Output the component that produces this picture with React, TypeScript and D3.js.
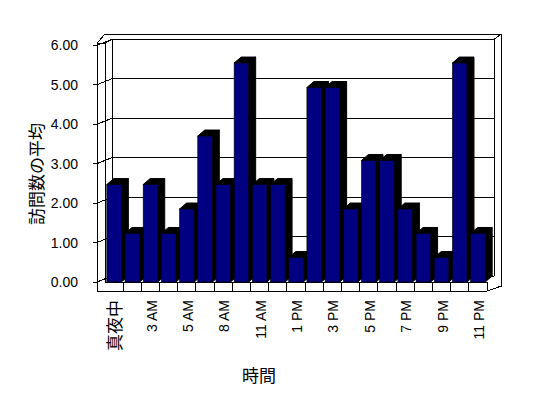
import React, { useEffect, useRef } from "react";
import * as d3 from "d3";

// 時間ごとの訪問数の平均
const hours = [
  "真夜中", "1 AM", "3 AM", "4 AM", "5 AM", "7 AM", "8 AM", "10 AM", "11 AM", "正午", "1 PM",
  "2 PM", "3 PM", "4 PM", "5 PM", "6 PM", "7 PM", "8 PM", "9 PM", "10 PM", "11 PM",
];
const visits = [
  2.47, 1.23, 2.47, 1.23, 1.85, 3.7, 2.47, 5.55, 2.47, 2.47, 0.62,
  4.93, 4.93, 1.85, 3.08, 3.08, 1.85, 1.23, 0.62, 5.55, 1.23,
];
const yTicks = [0, 1, 2, 3, 4, 5, 6];

const W = 548;
const H = 398;

const App = () => {
  const ref = useRef<SVGSVGElement>(null);

  useEffect(() => {
    drawChart();
  }, []);

  const drawChart = () => {
    const svg = d3.select(ref.current);
    svg.selectAll("*").remove();

    const xL = 105, xR = 487;
    const yBase = 282, floorBottom = 291, wallLeft = 97;
    const dx = 7, dy = -6; // depth
    const outerTop = 34, outerRight = 501.5;

    const x = d3.scaleBand<string>().domain(hours).range([xL, xR]);
    const y = d3.scaleLinear().domain([0, 6]).range([yBase, 45.3]);
    const band = x.bandwidth();
    const barW = band * 0.8;
    const off = 1.8;

    const line = (x1: number, y1: number, x2: number, y2: number) =>
      svg.append("line")
        .attr("x1", x1).attr("y1", y1).attr("x2", x2).attr("y2", y2)
        .attr("stroke", "#000").attr("stroke-width", 1)
        .attr("shape-rendering", "crispEdges");

    const yTop = y(6);
    const wallTopFront = yTop - 2;

    // back wall outer
    line(xL, outerTop, outerRight, outerTop);
    line(outerRight, outerTop, outerRight, yBase + 4);
    // back wall inner
    line(xL + dx, yTop + dy, xR + dx, yTop + dy);
    line(xR + dx, yTop + dy, xR + dx, yBase + dy);
    line(xR + dx, yTop + dy, outerRight, outerTop);
    line(xL + dx, yTop + dy, xL + dx, yBase + dy);

    // left wall
    line(wallLeft, wallTopFront, wallLeft, floorBottom);
    line(xL, wallTopFront, xL, yBase);
    line(wallLeft, wallTopFront, xL, wallTopFront);
    line(wallLeft, wallTopFront, xL, outerTop);
    line(xL, wallTopFront, xL + dx, yTop + dy);

    // gridlines
    yTicks.forEach((t) => {
      line(xL + dx, y(t) + dy, xR + dx, y(t) + dy);
      line(wallLeft, y(t), xL + dx, y(t) + dy);
      line(wallLeft - 4, y(t), wallLeft, y(t));
    });

    // floor front
    svg.append("rect")
      .attr("x", xL).attr("y", yBase)
      .attr("width", xR - xL).attr("height", floorBottom - yBase)
      .attr("fill", "#fff");
    line(wallLeft, floorBottom, xR, floorBottom);
    line(xL, yBase, xR, yBase);
    line(xR, yBase, xR, floorBottom);
    line(xR, floorBottom, outerRight, yBase + 4);
    hours.forEach((h) => {
      const bx = x(h)! + band;
      line(bx, yBase, bx, floorBottom);
    });

    // bars
    hours.forEach((h, i) => {
      const x0 = x(h)! + off;
      const x1 = x0 + barW;
      const yt = y(visits[i]);
      const g = svg.append("g");
      g.append("polygon")
        .attr("points", [[x1, yt], [x1 + dx, yt + dy], [x1 + dx, yBase + dy], [x1, yBase]].map((p) => p.join(",")).join(" "))
        .attr("fill", "#000").attr("stroke", "#000");
      g.append("polygon")
        .attr("points", [[x0, yt], [x0 + dx, yt + dy], [x1 + dx, yt + dy], [x1, yt]].map((p) => p.join(",")).join(" "))
        .attr("fill", "#000").attr("stroke", "#000");
      g.append("rect")
        .attr("x", x0).attr("y", yt)
        .attr("width", barW).attr("height", yBase - yt)
        .attr("fill", "#000080").attr("stroke", "#000").attr("stroke-width", 0.6);
    });

    // y tick labels
    svg.append("g")
      .selectAll("text")
      .data(yTicks)
      .join("text")
      .attr("x", 78)
      .attr("y", (d) => y(d))
      .attr("dy", "0.36em")
      .attr("text-anchor", "end")
      .attr("font-size", 14)
      .attr("font-family", "Liberation Sans, Arial, sans-serif")
      .text((d) => d3.format(".2f")(d));

    // x labels, every other
    svg.append("g")
      .selectAll("text")
      .data(hours.filter((_, i) => i % 2 === 0))
      .join("text")
      .attr("transform", (d) => `translate(${x(d)! + band / 2 + 1},300) rotate(-90)`)
      .attr("dy", "0.36em")
      .attr("text-anchor", "end")
      .attr("font-size", (d) => (/^[\x00-\x7f]+$/.test(d) ? 14 : 17))
      .attr("font-family", "Liberation Sans, 'Noto Sans CJK JP', sans-serif")
      .text((d) => d);

    // axis titles
    svg.append("text")
      .attr("transform", "translate(37,174) rotate(-90)")
      .attr("dy", "0.36em")
      .attr("text-anchor", "middle")
      .attr("font-size", 17)
      .attr("font-family", "'Noto Sans CJK JP', sans-serif")
      .text("訪問数の平均");

    svg.append("text")
      .attr("x", 259).attr("y", 376)
      .attr("dy", "0.36em")
      .attr("text-anchor", "middle")
      .attr("font-size", 17)
      .attr("font-family", "'Noto Sans CJK JP', sans-serif")
      .text("時間");
  };

  return (
    <div style={{ position: "absolute", left: 0, top: 0 }}>
      <svg ref={ref} width={W} height={H} style={{ display: "block", background: "#fff" }} />
    </div>
  );
};

export default App;
